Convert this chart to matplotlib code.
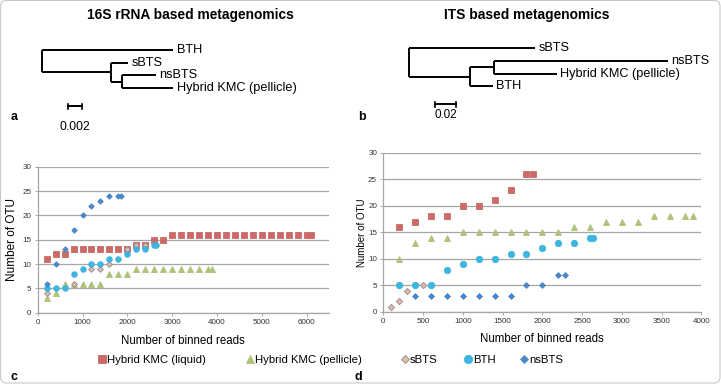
"""
Curvas de rarefação (16S e ITS) com dendrogramas acima
"""

import matplotlib.pyplot as plt
from matplotlib.patches import FancyBboxPatch

plt.rcParams["font.family"] = ["Liberation Sans", "DejaVu Sans"]

# ==================== DADOS ====================
# painel c - 16S rRNA
c_liquid_x = [200, 400, 600, 800, 1000, 1200, 1400, 1600, 1800, 2000, 2200, 2400,
              2600, 2800, 3000, 3200, 3400, 3600, 3800, 4000, 4200, 4400, 4600,
              4800, 5000, 5200, 5400, 5600, 5800, 6000, 6100]
c_liquid_y = [11, 12, 12, 13, 13, 13, 13, 13, 13, 13, 14, 14,
              15, 15, 16, 16, 16, 16, 16, 16, 16, 16, 16,
              16, 16, 16, 16, 16, 16, 16, 16]
c_pellicle_x = [200, 400, 600, 800, 1000, 1200, 1400, 1600, 1800, 2000, 2200,
                2400, 2600, 2800, 3000, 3200, 3400, 3600, 3800, 3900]
c_pellicle_y = [3, 4, 6, 6, 6, 6, 6, 8, 8, 8, 9, 9, 9, 9, 9, 9, 9, 9, 9, 9]
c_sbts_x = [200, 800, 1200, 1400, 1600, 2000, 2200, 2400]
c_sbts_y = [4, 6, 9, 9, 10, 13, 14, 14]
c_bth_x = [200, 400, 600, 800, 1000, 1200, 1400, 1600, 1800, 2000, 2200, 2400, 2600, 2630]
c_bth_y = [5, 5, 5, 8, 9, 10, 10, 11, 11, 12, 13, 13, 14, 14]
c_nsbts_x = [200, 400, 600, 800, 1000, 1200, 1400, 1600, 1800, 1850]
c_nsbts_y = [6, 10, 13, 17, 20, 22, 23, 24, 24, 24]

# painel d - ITS
d_liquid_x = [200, 400, 600, 800, 1000, 1200, 1400, 1600, 1800, 1880]
d_liquid_y = [16, 17, 18, 18, 20, 20, 21, 23, 26, 26]
d_pellicle_x = [200, 400, 600, 800, 1000, 1200, 1400, 1600, 1800, 2000, 2200,
                2400, 2600, 2800, 3000, 3200, 3400, 3600, 3800, 3900]
d_pellicle_y = [10, 13, 14, 14, 15, 15, 15, 15, 15, 15, 15, 16, 16, 17, 17, 17,
                18, 18, 18, 18]
d_sbts_x = [100, 200, 300, 500]
d_sbts_y = [1, 2, 4, 5]
d_bth_x = [200, 400, 600, 800, 1000, 1200, 1400, 1600, 1800, 2000, 2200, 2400, 2600, 2640]
d_bth_y = [5, 5, 5, 8, 9, 10, 10, 11, 11, 12, 13, 13, 14, 14]
d_nsbts_x = [400, 600, 800, 1000, 1200, 1400, 1600, 1800, 2000, 2200, 2290]
d_nsbts_y = [3, 3, 3, 3, 3, 3, 3, 5, 5, 7, 7]

series_names = ["Hybrid KMC (liquid)", "Hybrid KMC (pellicle)", "sBTS", "BTH", "nsBTS"]

# dendrogramas: (nome, comprimento) ou (nome, comprimento, filhos)
tree_16s = ("", 0.0, [
    ("BTH", 0.0196),
    ("", 0.0103, [
        ("sBTS", 0.0026),
        ("", 0.0017, [("nsBTS", 0.0050), ("Hybrid KMC (pellicle)", 0.0076)]),
    ]),
])
tree_its = ("", 0.0, [
    ("sBTS", 0.1214),
    ("", 0.0586, [
        ("", 0.0235, [("nsBTS", 0.168), ("Hybrid KMC (pellicle)", 0.0603)]),
        ("BTH", 0.0219),
    ]),
])
scale_16s = 0.002
scale_its = 0.02

# ==================== ESTILO ====================
W, H = 721, 384
GRID = "#A6A6A6"
STYLES = {
    "Hybrid KMC (liquid)": dict(marker="s", color="#CB6A66", ms_c=3.8, ms_d=4.4, mec="#CB6A66"),
    "Hybrid KMC (pellicle)": dict(marker="^", color="#AFC27A", ms_c=4.0, ms_d=4.4, mec="#AFC27A"),
    "sBTS": dict(marker="D", color="#DCC28C", ms_c=3.0, ms_d=3.2, mec="#9A7DB8"),
    "BTH": dict(marker="o", color="#3DB5DF", ms_c=4.0, ms_d=4.6, mec="#3DB5DF"),
    "nsBTS": dict(marker="D", color="#4C87C6", ms_c=2.8, ms_d=3.0, mec="#4C87C6"),
}
TREE_FS = 9.2


def draw_clade(ax, clade, x, leaf_y, px_per_unit):
    """Desenha um clado recursivamente; devolve o y do nó."""
    name, length = clade[0], clade[1]
    x_end = x + length * px_per_unit
    if len(clade) == 2:
        y = leaf_y.pop(0)
        ax.text(x_end + 3.5, y, name, fontsize=TREE_FS, va="center", ha="left")
    else:
        ys = [draw_clade(ax, c, x_end, leaf_y, px_per_unit) for c in clade[2]]
        ax.plot([x_end, x_end], [ys[0], ys[-1]], color="black", lw=1.4,
                solid_capstyle="butt")
        y = (ys[0] + ys[-1]) / 2
    if length > 0:
        ax.plot([x, x_end], [y, y], color="black", lw=1.4, solid_capstyle="butt")
    return y


def draw_scale_bar(ax, x0, y0, value, px_per_unit, label_y, fs):
    x1 = x0 + value * px_per_unit
    ax.plot([x0, x1], [y0, y0], color="black", lw=1.4)
    ax.plot([x0, x0], [y0 - 2.5, y0 + 2.5], color="black", lw=1.2)
    ax.plot([x1, x1], [y0 - 2.5, y0 + 2.5], color="black", lw=1.2)
    ax.text((x0 + x1) / 2, label_y, f"{value:g}", fontsize=fs, ha="center", va="center")


def rarefaction(ax, data, which, xmax, xstep):
    for name, (xs, ys) in zip(series_names, data):
        st = STYLES[name]
        ax.plot(xs, ys, ls="none", marker=st["marker"], ms=st[f"ms_{which}"],
                mfc=st["color"], mec=st["mec"], mew=0.6, label=name,
                clip_on=False, zorder=3)
    ax.set_xlim(0, xmax)
    ax.set_ylim(0, 30)
    ax.set_xticks(range(0, int(xmax) + 1 if xmax % xstep == 0 else int(xmax), xstep))
    ax.set_yticks(range(0, 31, 5))
    ax.yaxis.grid(True, color=GRID, lw=0.9)
    ax.set_axisbelow(True)
    for s in ["top", "right"]:
        ax.spines[s].set_visible(False)
    for s in ["left", "bottom"]:
        ax.spines[s].set_color(GRID)
        ax.spines[s].set_linewidth(0.9)
    ax.tick_params(labelsize=5.8, length=2.5, width=0.7, color=GRID, pad=2,
                   labelcolor="#333333")


fig = plt.figure(figsize=(W / 100, H / 100), dpi=100)

# camada de sobreposição em pixels
ov = fig.add_axes([0, 0, 1, 1])
ov.set_xlim(0, W)
ov.set_ylim(H, 0)
ov.axis("off")

ov.add_patch(FancyBboxPatch((0.5, 0.5), W - 1.5, H - 1.5,
                            boxstyle="round,pad=0,rounding_size=6",
                            fc="none", ec="#C8C8C8", lw=0.8))

ov.text(190, 15, "16S rRNA based metagenomics", fontsize=9.9, weight="bold",
        ha="center", va="center")
ov.text(527, 15, "ITS based metagenomics", fontsize=9.9, weight="bold",
        ha="center", va="center")

draw_clade(ov, tree_16s, 41.7, [49.7, 62.5, 75.3, 88.1], 6700)
draw_scale_bar(ov, 68.3, 106, scale_16s, 6700, 126.5, 8.8)
draw_clade(ov, tree_its, 409.3, [48.3, 61.0, 73.6, 86.4], 1035)
draw_scale_bar(ov, 435, 104.3, scale_its, 1035, 115.5, 8.4)

for letter, (lx, ly) in zip("abcd", [(14, 117), (362, 117), (14, 377), (358, 377)]):
    ov.text(lx, ly, letter, fontsize=9, weight="bold", ha="center", va="center")

# painel c
ax_c = fig.add_axes([37.7 / W, 1 - 312.7 / H, 291.3 / W, 146 / H])
rarefaction(ax_c, [(c_liquid_x, c_liquid_y), (c_pellicle_x, c_pellicle_y),
                   (c_sbts_x, c_sbts_y), (c_bth_x, c_bth_y),
                   (c_nsbts_x, c_nsbts_y)], "c", 6500, 1000)
ax_c.set_xlabel("Number of binned reads", fontsize=8.3)
ax_c.xaxis.set_label_coords(0.5, -0.15)
ax_c.set_ylabel("Number of OTU", fontsize=8.5)
ax_c.yaxis.set_label_coords(-0.068, 0.5)

# painel d
ax_d = fig.add_axes([383.3 / W, 1 - 312 / H, 318 / W, 159.3 / H])
rarefaction(ax_d, [(d_liquid_x, d_liquid_y), (d_pellicle_x, d_pellicle_y),
                   (d_sbts_x, d_sbts_y), (d_bth_x, d_bth_y),
                   (d_nsbts_x, d_nsbts_y)], "d", 4000, 500)
ax_d.set_xlabel("Number of binned reads", fontsize=8.3)
ax_d.xaxis.set_label_coords(0.5, -0.13)
ax_d.set_ylabel("Number of OTU", fontsize=7.0)
ax_d.yaxis.set_label_coords(-0.052, 0.5)

# legenda (uma entrada por posição)
handles, labels = ax_d.get_legend_handles_labels()
legend_x = [103, 251, 406, 469, 525]
for h, lab, lx in zip(handles, labels, legend_x):
    leg = fig.legend([h], [lab], loc="center left",
                     bbox_to_anchor=((lx - 4) / W, 1 - 360 / H),
                     frameon=False, fontsize=8.2, handlelength=0.5,
                     handletextpad=0.2, borderpad=0, borderaxespad=0,
                     markerscale=1.3)

fig.savefig("out.png", dpi=100)
